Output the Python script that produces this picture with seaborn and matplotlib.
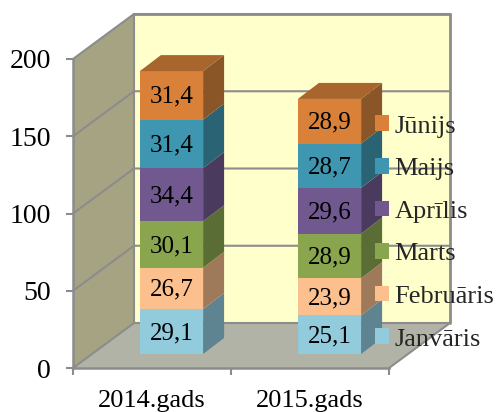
import matplotlib
matplotlib.use('Agg')
import matplotlib.pyplot as plt
from matplotlib.patches import Patch, Polygon
from matplotlib.transforms import Affine2D
import pandas as pd
import seaborn as sns

# 데이터 준비
years = ['2014.gads', '2015.gads']
months = ['Janvāris', 'Februāris', 'Marts', 'Aprīlis', 'Maijs', 'Jūnijs']
janvaris = [29.1, 25.1]
februaris = [26.7, 23.9]
marts = [30.1, 28.9]
aprilis = [34.4, 29.6]
maijs = [31.4, 28.7]
junijs = [31.4, 28.9]
y_ticks = [0, 50, 100, 150, 200]

front_colors = ['#92CBDC', '#FCC08E', '#89A54E', '#71588F', '#3F96B0', '#D98138']
side_colors = ['#5E8491', '#9E7A5A', '#5A6D34', '#4A3A5E', '#2A6373', '#8A5527']
top_color = '#A8652E'
line_color = '#8C8C8C'

df = pd.DataFrame({'year': years, 'Janvāris': janvaris, 'Februāris': februaris, 'Marts': marts,
                   'Aprīlis': aprilis, 'Maijs': maijs, 'Jūnijs': junijs})

sns.set_theme(style='white')
plt.rcParams['font.family'] = ['Liberation Serif', 'DejaVu Serif']

fig = plt.figure(figsize=(4.98, 4.12), dpi=100)
ax = fig.add_axes([73 / 498, (412 - 368) / 412, 316 / 498, 309 / 412])
ax.patch.set_alpha(0)
ax.set_xlim(-0.5, 1.5)
ax.set_ylim(0, 200)

# 1 px 단위를 데이터 단위로 환산
px_x = 2 / 316
px_y = 200 / 309
wall_dx, wall_dy = 61 * px_x, 45 * px_y
bar_shift_x, bar_shift_y = 19.5 * px_x, 14 * px_y
bar_dx, bar_dy = 21 * px_x, 16 * px_y

# 3D 벽면과 바닥
ax.add_patch(Polygon([(-0.5, 0), (-0.5, 200), (-0.5 + wall_dx, 200 + wall_dy), (-0.5 + wall_dx, wall_dy)],
                     fc='#A5A382', ec='none', clip_on=False, zorder=1))
ax.add_patch(Polygon([(-0.5 + wall_dx, wall_dy), (-0.5 + wall_dx, 200 + wall_dy), (1.5 + wall_dx, 200 + wall_dy),
                      (1.5 + wall_dx, wall_dy)], fc='#FFFFCC', ec='none', clip_on=False, zorder=1))
ax.add_patch(Polygon([(-0.5, 0), (1.5, 0), (1.5 + wall_dx, wall_dy), (-0.5 + wall_dx, wall_dy)],
                     fc='#B1B3A6', ec='none', clip_on=False, zorder=1))

# 눈금선
for t in y_ticks:
    ax.plot([-0.5, -0.5 + wall_dx, 1.5 + wall_dx], [t, t + wall_dy, t + wall_dy],
            color=line_color, lw=1.5, clip_on=False, zorder=2)
ax.plot([-0.5 + wall_dx, -0.5 + wall_dx], [wall_dy, 200 + wall_dy], color=line_color, lw=1.5, clip_on=False, zorder=2)
ax.plot([1.5 + wall_dx, 1.5 + wall_dx], [wall_dy, 200 + wall_dy], color=line_color, lw=2, clip_on=False, zorder=2)
ax.plot([-0.5 + wall_dx, 1.5 + wall_dx], [200 + wall_dy, 200 + wall_dy], color=line_color, lw=2, clip_on=False, zorder=2)
ax.plot([1.5, 1.5 + wall_dx], [0, wall_dy], color=line_color, lw=1.5, clip_on=False, zorder=2)

# 누적 막대 (앞면은 seaborn, 옆면과 윗면은 Polygon)
shift = Affine2D().translate(bar_shift_x, bar_shift_y) + ax.transData
bottoms = [0, 0]
for m, c, sc in zip(months, front_colors, side_colors):
    n_before = len(ax.patches)
    sns.barplot(data=df, x='year', y=m, color=c, saturation=1, width=0.4, bottom=bottoms, ax=ax,
                linewidth=0, zorder=3)
    for bar, val in zip(ax.patches[n_before:], df[m]):
        bar.set_transform(shift)
        bar.set_clip_on(False)
        x1 = bar.get_x() + bar.get_width() + bar_shift_x
        y0 = bar.get_y() + bar_shift_y
        y1 = y0 + bar.get_height()
        ax.add_patch(Polygon([(x1, y0), (x1 + bar_dx, y0 + bar_dy), (x1 + bar_dx, y1 + bar_dy), (x1, y1)],
                             fc=sc, ec='none', clip_on=False, zorder=3))
        if m == months[-1]:
            x0 = x1 - bar.get_width()
            ax.add_patch(Polygon([(x0, y1), (x1, y1), (x1 + bar_dx, y1 + bar_dy), (x0 + bar_dx, y1 + bar_dy)],
                                 fc=top_color, ec='none', clip_on=False, zorder=3))
        ax.text(x1 - bar.get_width() / 2, (y0 + y1) / 2 - 1.5 * px_y, str(val).replace('.', ','), ha='center', va='center',
                fontsize=18, color='black', zorder=4)
    bottoms = [b + v for b, v in zip(bottoms, df[m])]

# 축
ax.set_xlim(-0.5, 1.5)
ax.set_ylim(0, 200)
ax.set_xlabel('')
ax.set_ylabel('')
ax.set_yticks(y_ticks)
ax.set_xticks([0, 1])
ax.set_xticks([-0.5, 0.5, 1.5], minor=True)
ax.set_xticklabels(years, fontsize=19)
ax.tick_params(axis='x', which='major', length=0, pad=16, colors='black')
ax.tick_params(axis='x', which='minor', length=5, width=1.5, color=line_color, bottom=True)
ax.tick_params(axis='y', length=5, width=1.5, color=line_color, left=True, labelsize=20, pad=11, labelcolor='black')
sns.despine(ax=ax, top=True, right=True)
for side in ['left', 'bottom']:
    ax.spines[side].set_color(line_color)
    ax.spines[side].set_linewidth(1.8)
    ax.spines[side].set_zorder(2.5)

# 범례
handles = [Patch(fc=c, ec='none', label=m) for m, c in zip(months, front_colors)][::-1]
leg = ax.legend(handles=handles, loc='center left', bbox_to_anchor=(375 / 498, (412 - 233) / 412),
                bbox_transform=fig.transFigure, frameon=False, fontsize=19, borderpad=0, borderaxespad=0,
                handlelength=0.53, handleheight=0.53, handletextpad=0.2, labelspacing=0.775)
leg.set_zorder(5)

plt.savefig('out.png', dpi=100)
